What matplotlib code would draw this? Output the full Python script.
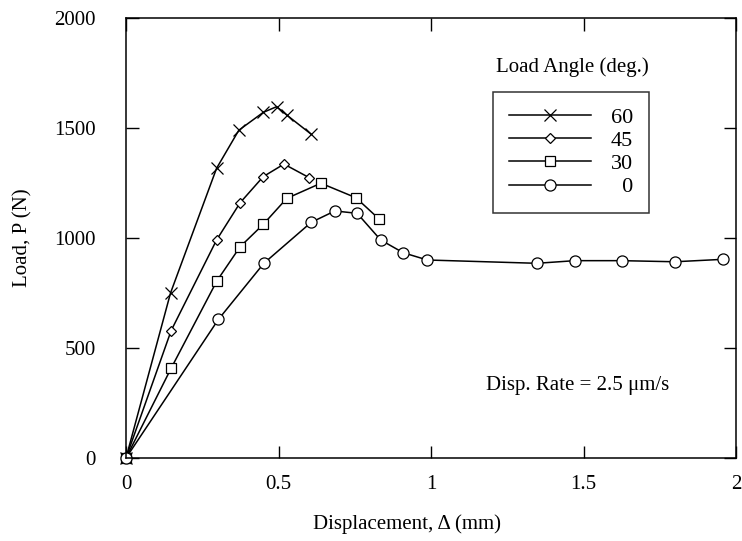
import matplotlib
matplotlib.use("Agg")
import matplotlib.pyplot as plt

plt.rcParams['font.family'] = ['Liberation Serif', 'DejaVu Serif']

# load-displacement data for each load angle (deg.)
disp_60 = [0.0, 0.146, 0.297, 0.370, 0.450, 0.494, 0.527, 0.606]
load_60 = [0, 750, 1317, 1490, 1571, 1597, 1559, 1473]

disp_45 = [0.0, 0.148, 0.297, 0.374, 0.450, 0.518, 0.601]
load_45 = [0, 579, 991, 1160, 1279, 1336, 1274]

disp_30 = [0.0, 0.148, 0.298, 0.374, 0.450, 0.527, 0.639, 0.754, 0.830]
load_30 = [0, 408, 805, 960, 1062, 1180, 1249, 1183, 1086]

disp_0 = [0.0, 0.303, 0.452, 0.607, 0.685, 0.758, 0.835, 0.909, 0.988,
          1.347, 1.472, 1.625, 1.800, 1.956]
load_0 = [0, 630, 885, 1071, 1123, 1112, 991, 933, 900,
          885, 897, 897, 892, 903]

angle_labels = ['60', '45', '30', '\u20070']
x_ticks = [0, 0.5, 1, 1.5, 2]
x_tick_labels = ['0', '0.5', '1', '1.5', '2']
y_ticks = [0, 500, 1000, 1500, 2000]

fig = plt.figure(figsize=(7.42, 5.41), dpi=100)
ax = fig.add_axes([126 / 742, 1 - 458 / 541, 610 / 742, 440 / 541])

style = dict(color='black', lw=1.1, mfc='white', mec='black', mew=0.9, clip_on=False)
ax.plot(disp_60, load_60, marker='x', ms=8.5, label=angle_labels[0], **style)
ax.plot(disp_45, load_45, marker='D', ms=5.5, label=angle_labels[1], **style)
ax.plot(disp_30, load_30, marker='s', ms=7, label=angle_labels[2], **style)
ax.plot(disp_0, load_0, marker='o', ms=8, label=angle_labels[3], **style)

ax.set_xlim(0, 2)
ax.set_ylim(0, 2000)
ax.set_xticks(x_ticks)
ax.set_xticklabels(x_tick_labels)
ax.set_yticks(y_ticks)
ax.tick_params(direction='in', length=9, width=1.0, top=True, right=True,
               labelsize=15)
ax.tick_params(axis='x', pad=12)
ax.tick_params(axis='y', pad=22)
for sp in ax.spines.values():
    sp.set_linewidth(1.1)

ax.set_xlabel('Displacement, \u0394 (mm)', fontsize=15)
ax.xaxis.set_label_coords(0.46, -0.127)
ax.set_ylabel('Load, P (N)', fontsize=15)
ax.yaxis.set_label_coords(-0.154, 0.5)

ax.text(0.731, 0.889, 'Load Angle (deg.)', transform=ax.transAxes,
        ha='center', va='center', fontsize=15)
leg = ax.legend(loc='upper left', bbox_to_anchor=(0.602, 0.8325),
                frameon=True, fancybox=False, fontsize=16,
                handlelength=3.7, borderpad=0.7, labelspacing=0.12,
                handletextpad=0.9, borderaxespad=0)
leg.get_frame().set_edgecolor('black')
leg.get_frame().set_linewidth(1.1)

ax.text(1.18, 330, 'Disp. Rate = 2.5 \u03bcm/s', ha='left', va='center', fontsize=15)

fig.savefig('out.png', dpi=100)
